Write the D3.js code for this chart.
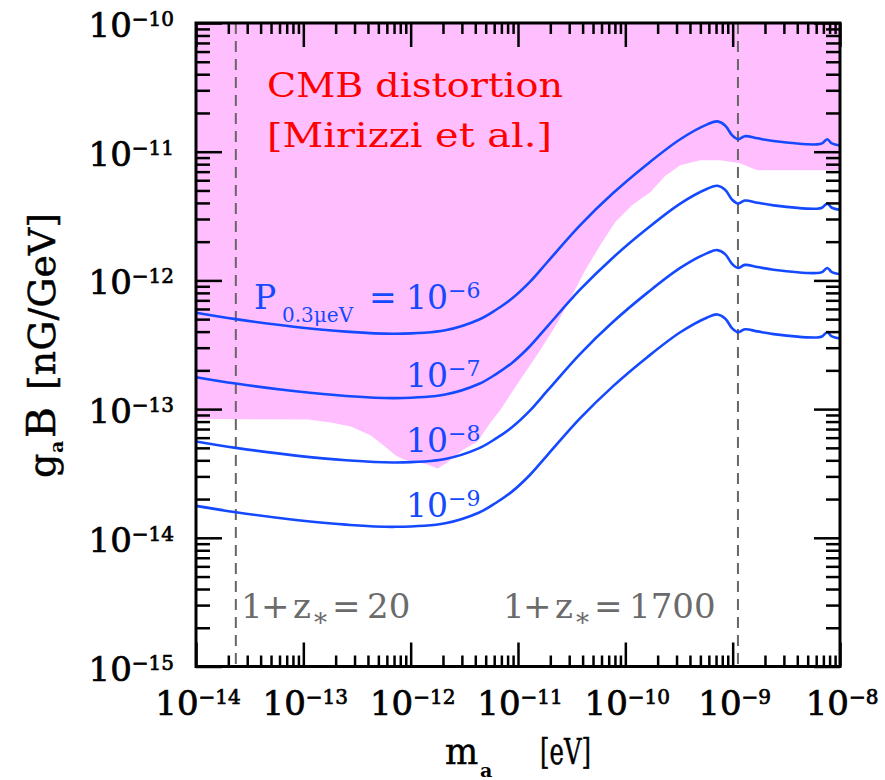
<!DOCTYPE html>
<html><head><meta charset="utf-8">
<script src="https://cdn.jsdelivr.net/npm/d3@7"></script>
<style>body{margin:0;background:#fff}svg{display:block}text{font-family:"DejaVu Serif",serif}</style>
</head><body>
<svg id="c" width="885" height="780"></svg>
<script>
// ---- data ----
const massGrid = [1e-14, 2.35e-14, 8.5e-14, 2.5e-13, 7.2e-13, 2.1e-12, 4.3e-12, 6.2e-12, 8.9e-12, 1.29e-11, 1.88e-11, 3.8e-11, 7.7e-11, 1.6e-10, 3.25e-10, 5.8e-10, 7.2e-10, 8.5e-10, 9.9e-10, 1.12e-9, 1.3e-9, 1.7e-9, 2.4e-9, 6.1e-9, 6.8e-9, 7.6e-9, 8.4e-9, 1e-8];
const curveP6 = [5.6e-13, 5.0e-13, 4.35e-13, 4.0e-13, 3.85e-13, 4.1e-13, 4.95e-13, 5.89e-13, 7.29e-13, 9.73e-13, 1.39e-12, 2.69e-12, 4.77e-12, 8.0e-12, 1.25e-11, 1.63e-11, 1.72e-11, 1.6e-11, 1.34e-11, 1.25e-11, 1.32e-11, 1.27e-11, 1.21e-11, 1.14e-11, 1.16e-11, 1.25e-11, 1.16e-11, 1.12e-11];
const curveP7 = [1.77e-13, 1.58e-13, 1.376e-13, 1.265e-13, 1.217e-13, 1.297e-13, 1.565e-13, 1.863e-13, 2.305e-13, 3.077e-13, 4.396e-13, 8.507e-13, 1.508e-12, 2.53e-12, 3.953e-12, 5.155e-12, 5.439e-12, 5.06e-12, 4.237e-12, 3.953e-12, 4.174e-12, 4.016e-12, 3.826e-12, 3.605e-12, 3.668e-12, 3.953e-12, 3.668e-12, 3.542e-12];
const curveP8 = [5.6e-14, 5.0e-14, 4.35e-14, 4.0e-14, 3.85e-14, 4.1e-14, 4.95e-14, 5.89e-14, 7.29e-14, 9.73e-14, 1.39e-13, 2.69e-13, 4.77e-13, 8.0e-13, 1.25e-12, 1.63e-12, 1.72e-12, 1.6e-12, 1.34e-12, 1.25e-12, 1.32e-12, 1.27e-12, 1.21e-12, 1.14e-12, 1.16e-12, 1.25e-12, 1.16e-12, 1.12e-12];
const curveP9 = [1.77e-14, 1.58e-14, 1.376e-14, 1.265e-14, 1.217e-14, 1.297e-14, 1.565e-14, 1.863e-14, 2.305e-14, 3.077e-14, 4.396e-14, 8.507e-14, 1.508e-13, 2.53e-13, 3.953e-13, 5.155e-13, 5.439e-13, 5.06e-13, 4.237e-13, 3.953e-13, 4.174e-13, 4.016e-13, 3.826e-13, 3.605e-13, 3.668e-13, 3.953e-13, 3.668e-13, 3.542e-13];
const curveExps = ["−6", "−7", "−8", "−9"];

const cmbMass  = [1e-14, 1.1e-13, 1.8e-13, 2.77e-13, 4.25e-13, 5.61e-13, 7.24e-13, 8.6e-13, 1.44e-12, 1.78e-12, 2.12e-12, 3.11e-12, 4.2e-12, 5.55e-12, 6.87e-12, 1.05e-11, 1.62e-11, 2.33e-11, 3.21e-11, 4.25e-11, 5.85e-11, 8.07e-11, 1.16e-10, 1.71e-10, 2.35e-10, 3.25e-10, 4.99e-10, 7.66e-10, 1.17e-9, 1.69e-9, 1e-8];
const cmbLower = [8.36e-14, 8.3e-14, 7.86e-14, 7.32e-14, 6.23e-14, 5.21e-14, 4.36e-14, 4.06e-14, 3.71e-14, 3.46e-14, 3.78e-14, 4.85e-14, 5.6e-14, 7.86e-14, 9.9e-14, 1.69e-13, 2.89e-13, 4.69e-13, 7.72e-13, 1.21e-12, 1.88e-12, 2.84e-12, 3.85e-12, 4.85e-12, 6.46e-12, 7.86e-12, 8.59e-12, 8.59e-12, 8.15e-12, 7.19e-12, 7.19e-12];

const redshiftMass = [2.35e-14, 1.12e-9];
const redshiftLabels = ["20", "1700"];

const xTickExps = ["−14", "−13", "−12", "−11", "−10", "−9", "−8"];
const yTickExps = ["−15", "−14", "−13", "−12", "−11", "−10"];

// ---- layout ----
const M = {l: 196, r: 840, t: 23, b: 666.5};
const BLUE = "#1449ff", PINK = "#ffbfff", GRAY = "#6b6b6b";
const svg = d3.select("#c");
const x = d3.scaleLog().domain([1e-14, 1e-8]).range([M.l, M.r]);
const y = d3.scaleLog().domain([1e-15, 1e-10]).range([M.b, M.t]);

// pink excluded region
const cmb = cmbMass.map((m, i) => [m, cmbLower[i]]);
svg.append("path").datum(cmb)
  .attr("d", d3.area().x(d => x(d[0])).y0(y(1e-10)).y1(d => y(d[1])))
  .attr("fill", PINK);

// dashed redshift lines
svg.selectAll(".zline").data(redshiftMass).enter().append("line")
  .attr("x1", d => x(d)).attr("x2", d => x(d)).attr("y1", M.t).attr("y2", M.b)
  .attr("stroke", "#666").attr("stroke-width", 2).attr("stroke-dasharray", "11,7");

// curves
const curves = [curveP6, curveP7, curveP8, curveP9];
const line = d3.line().x(d => x(d[0])).y(d => y(d[1])).curve(d3.curveCatmullRom.alpha(0.5));
curves.forEach(c => {
  svg.append("path").datum(massGrid.map((m, i) => [m, c[i]]))
    .attr("d", line).attr("fill", "none").attr("stroke", BLUE).attr("stroke-width", 2.6);
});

// ticks
const dec = (a, b) => d3.range(a, b + 1);
const xMajor = dec(-14, -8).map(d => Math.pow(10, d));
const xMinor = dec(-14, -9).flatMap(d => d3.range(2, 10).map(k => k * Math.pow(10, d)));
const yMajor = dec(-15, -10).map(d => Math.pow(10, d));
const yMinor = dec(-15, -11).flatMap(d => d3.range(2, 10).map(k => k * Math.pow(10, d)));
function ticks(axisFn, scale, vals, size, tr) {
  const g = svg.append("g").attr("transform", tr)
    .call(axisFn(scale).tickValues(vals).tickSize(size).tickFormat(""));
  g.select(".domain").remove();
  g.selectAll("line").attr("stroke", "#000").attr("stroke-width", 2.5);
}
ticks(d3.axisBottom, x, xMinor, -11, `translate(0,${M.b})`);
ticks(d3.axisBottom, x, xMajor, -24, `translate(0,${M.b})`);
ticks(d3.axisTop, x, xMinor, -11, `translate(0,${M.t})`);
ticks(d3.axisTop, x, xMajor, -24, `translate(0,${M.t})`);
ticks(d3.axisLeft, y, yMinor, -14, `translate(${M.l},0)`);
ticks(d3.axisLeft, y, yMajor, -26, `translate(${M.l},0)`);
ticks(d3.axisRight, y, yMinor, -14, `translate(${M.r},0)`);
ticks(d3.axisRight, y, yMajor, -26, `translate(${M.r},0)`);

svg.append("rect").attr("x", M.l).attr("y", M.t).attr("width", M.r - M.l).attr("height", M.b - M.t)
  .attr("fill", "none").attr("stroke", "#000").attr("stroke-width", 3);

// tick labels
function powLabel(px, py, anchor, exp, bs, es, raise, fill, sw) {
  const t = svg.append("text").attr("x", px).attr("y", py).attr("text-anchor", anchor)
    .attr("fill", fill || "#000");
  if (sw) t.attr("stroke", fill || "#000").attr("stroke-width", sw);
  t.append("tspan").attr("font-size", bs).text("10");
  t.append("tspan").attr("font-size", es).attr("dy", -raise).text(exp);
  return t;
}
xMajor.forEach((v, i) => powLabel(x(v) + 2, 715, "middle", xTickExps[i], 34, 20, 11, "#000", 0.7));
yMajor.forEach((v, i) => powLabel(174, y(v) + 14, "end", yTickExps[i], 34, 20, 11, "#000", 0.7));

// curve labels
const labelBase = [309, 387, 452, 517];
curves.forEach((c, i) => powLabel(406, labelBase[i], "start", curveExps[i], 33, 22, 11, BLUE));
svg.append("text").attr("x", 254).attr("y", 309).attr("font-size", 33).attr("fill", BLUE).text("P");
svg.append("text").attr("x", 282).attr("y", 322).attr("font-size", 20).attr("fill", BLUE).text("0.3μeV");
svg.append("text").attr("x", 369).attr("y", 309).attr("font-size", 33).attr("fill", BLUE).text("=");

// CMB text
svg.append("text").attr("x", 267).attr("y", 97).attr("font-size", 34).attr("fill", "#ff0000")
  .attr("textLength", 296).attr("lengthAdjust", "spacingAndGlyphs").text("CMB distortion");
svg.append("text").attr("x", 267).attr("y", 147).attr("font-size", 34).attr("fill", "#ff0000")
  .attr("textLength", 285).attr("lengthAdjust", "spacingAndGlyphs").text("[Mirizzi et al.]");

// redshift labels
function zLabel(x0, val) {
  const t = svg.append("text").attr("y", 618).attr("font-size", 34).attr("fill", GRAY);
  t.append("tspan").attr("x", x0).text("1");
  t.append("tspan").attr("x", x0 + 20).text("+");
  t.append("tspan").attr("x", x0 + 52).text("z");
  t.append("tspan").attr("x", x0 + 73).attr("dy", 14).attr("font-size", 26).text("*");
  t.append("tspan").attr("x", x0 + 91).attr("dy", -14).text("=");
  t.append("tspan").attr("x", x0 + 126).text(val);
}
zLabel(241, redshiftLabels[0]);
zLabel(503, redshiftLabels[1]);

// axis labels
svg.append("text").attr("x", 445).attr("y", 764).attr("font-size", 35).attr("stroke", "#000").attr("stroke-width", 0.5).text("m");
svg.append("text").attr("x", 480).attr("y", 777).attr("font-size", 19).attr("font-weight", "bold").text("a");
svg.append("text").attr("x", 540).attr("y", 764).attr("font-size", 35).attr("stroke", "#000").attr("stroke-width", 0.5)
  .attr("textLength", 51).attr("lengthAdjust", "spacingAndGlyphs").text("[eV]");

const yl = svg.append("g").attr("transform", "translate(55,478) rotate(-90)").attr("stroke", "#000").attr("stroke-width", 0.5);
yl.append("text").attr("x", 0).attr("y", 0).attr("font-size", 38).text("g");
yl.append("text").attr("x", 25).attr("y", 8).attr("font-size", 19).attr("font-weight", "bold").attr("stroke-width", 0).text("a");
yl.append("text").attr("x", 40).attr("y", 0).attr("font-size", 40)
  .attr("textLength", 31).attr("lengthAdjust", "spacingAndGlyphs").text("B");
yl.append("text").attr("x", 88).attr("y", 0).attr("font-size", 38)
  .attr("textLength", 177).attr("lengthAdjust", "spacingAndGlyphs").text("[nG/GeV]");
</script>
</body></html>
